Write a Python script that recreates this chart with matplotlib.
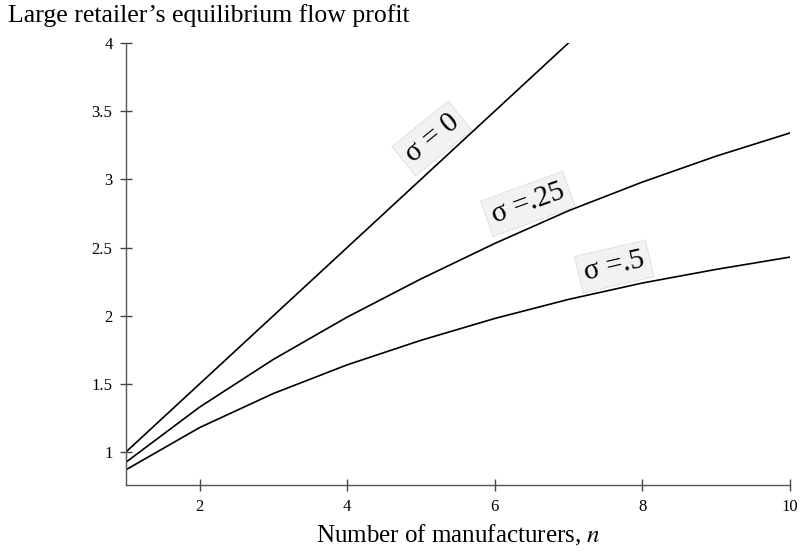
import numpy as np
import matplotlib
matplotlib.use("Agg")
import matplotlib.pyplot as plt

# Datos
n = [1, 2, 3, 4, 5, 6, 7, 8, 9, 10]
lucro_sigma_0 = [1.0, 1.5, 2.0, 2.5, 3.0, 3.5, 4.0]
lucro_sigma_025 = [0.925, 1.33, 1.68, 1.99, 2.27, 2.53, 2.77, 2.98, 3.17, 3.34]
lucro_sigma_05 = [0.87, 1.18, 1.43, 1.64, 1.82, 1.98, 2.12, 2.24, 2.34, 2.43]
rotulos = ["\u03c3 = 0", "\u03c3 =.25", "\u03c3 =.5"]

plt.rcParams['font.family'] = ['Liberation Serif', 'DejaVu Serif']
plt.rcParams['mathtext.fontset'] = 'stix'

fig = plt.figure(figsize=(8.06, 5.58), dpi=100)
ax = fig.add_axes([0.156, 0.131, 0.824, 0.792])

ax.plot(n[:len(lucro_sigma_0)], lucro_sigma_0, color='black', lw=1.2)
ax.plot(n, lucro_sigma_025, color='black', lw=1.2)
ax.plot(n, lucro_sigma_05, color='black', lw=1.2)

ax.set_xlim(1, 10)
ax.set_ylim(0.76, 4.0)
ax.set_xticks([2, 4, 6, 8, 10])
ax.set_xticklabels(['2', '4', '6', '8', '10'])
ax.set_yticks([1, 1.5, 2, 2.5, 3, 3.5, 4])
ax.set_yticklabels(['1', '1.5', '2', '2.5', '3', '3.5', '4'])

for lado in ['top', 'right']:
    ax.spines[lado].set_visible(False)
for lado in ['left', 'bottom']:
    ax.spines[lado].set_color('#555555')
    ax.spines[lado].set_linewidth(1.0)
ax.tick_params(direction='inout', length=9, width=1.0, color='#444444',
               labelsize=12, pad=5)
ax.tick_params(axis='x', pad=6)

ax.set_xlabel("Number of manufacturers, $n$", fontsize=18, labelpad=5)
fig.text(0.01, 0.973, "Large retailer\u2019s equilibrium flow profit",
         fontsize=18.5, ha='left', va='center')

caixa = dict(boxstyle='square,pad=0.2', fc='#f2f2f2', ec='#b5b5b5', lw=0.6, ls=':')
posicoes = [(5.15, 3.3, 39), (6.45, 2.82, 20), (7.62, 2.36, 13)]
for rotulo, (x, y, ang) in zip(rotulos, posicoes):
    ax.text(x, y, rotulo, fontsize=21, rotation=ang, rotation_mode='anchor',
            ha='center', va='center', bbox=caixa)

fig.savefig("out.png", dpi=100)
